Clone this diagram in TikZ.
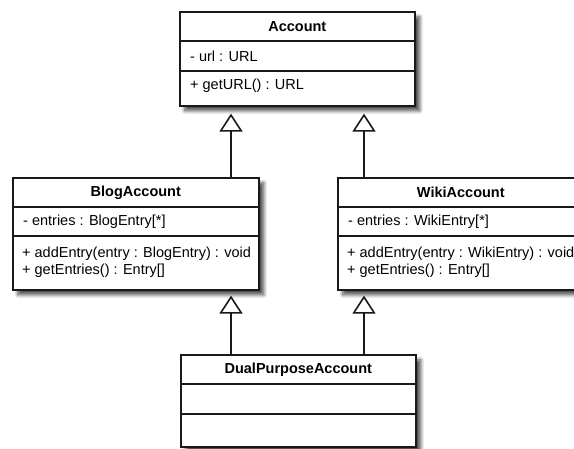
\documentclass[tikz,border=0pt]{standalone}
\usepackage{fontspec}
\setmainfont{Liberation Sans}
\usetikzlibrary{arrows.meta,calc,shadows.blur}

\tikzset{
  umlbox/.style={draw=black!90, line width=1.6pt, fill=white, inner sep=0pt,
    anchor=north west,
    blur shadow={shadow xshift=5pt, shadow yshift=-5pt, shadow blur steps=8,
      shadow blur radius=3.5pt, shadow opacity=70}},
  divider/.style={line width=1.6pt, draw=black!90},
  classname/.style={font=\bfseries\fontsize{14.5}{17}\selectfont, inner sep=0pt},
  member/.style={font=\fontsize{14.5}{17}\selectfont, anchor=west, inner sep=0pt, align=left},
  inherit/.style={line width=1.6pt, draw=black!90,
    -{Triangle[open, length=18pt, width=23pt, line width=1.6pt, fill=white]}},
}

\begin{document}
\begin{tikzpicture}[x=1pt, y=-1pt]
  \useasboundingbox (0,0) rectangle (574,448);
  \clip (0,0) rectangle (574,448);

  % Account
  \node[umlbox, minimum width=235pt, minimum height=94pt] (account) at (179,11) {};
  \draw[divider] ($(account.north west)+(0,30)$) -- ($(account.north east)+(0,30)$);
  \draw[divider] ($(account.north west)+(0,60)$) -- ($(account.north east)+(0,60)$);
  \node[classname] (account-name) at ($(account.north)+(0,15.5)$) {Account};
  \node[member] (account-attr) at ($(account.north west)+(11,45)$) {- url : URL};
  \node[member] (account-ops) at ($(account.north west)+(11,75)$) {+ getURL() : URL};

  % BlogAccount
  \node[umlbox, minimum width=246pt, minimum height=112pt] (blog) at (12,177) {};
  \draw[divider] ($(blog.north west)+(0,30)$) -- ($(blog.north east)+(0,30)$);
  \draw[divider] ($(blog.north west)+(0,59)$) -- ($(blog.north east)+(0,59)$);
  \node[classname] (blog-name) at ($(blog.north)+(0,15.5)$) {BlogAccount};
  \node[member] (blog-attr) at ($(blog.north west)+(11,44.5)$) {- entries : BlogEntry[*]};
  \node[member] (blog-ops) at ($(blog.north west)+(10,85)$)
    {+ addEntry(entry : BlogEntry) : void\\+ getEntries() : Entry[]};

  % WikiAccount
  \node[umlbox, minimum width=246pt, minimum height=112pt] (wiki) at (337,177) {};
  \draw[divider] ($(wiki.north west)+(0,30)$) -- ($(wiki.north east)+(0,30)$);
  \draw[divider] ($(wiki.north west)+(0,59)$) -- ($(wiki.north east)+(0,59)$);
  \node[classname] (wiki-name) at ($(wiki.north)+(0,15.5)$) {WikiAccount};
  \node[member] (wiki-attr) at ($(wiki.north west)+(11,44.5)$) {- entries : WikiEntry[*]};
  \node[member] (wiki-ops) at ($(wiki.north west)+(10,85)$)
    {+ addEntry(entry : WikiEntry) : void\\+ getEntries() : Entry[]};

  % DualPurposeAccount
  \node[umlbox, minimum width=235pt, minimum height=92pt] (dual) at (180,354) {};
  \draw[divider] ($(dual.north west)+(0,30)$) -- ($(dual.north east)+(0,30)$);
  \draw[divider] ($(dual.north west)+(0,60)$) -- ($(dual.north east)+(0,60)$);
  \node[classname] (dual-name) at ($(dual.north)+(0,15.5)$) {DualPurposeAccount};

  % generalization arrows
  \coordinate (lx) at (231,0);
  \coordinate (rx) at (364,0);
  \draw[inherit, shorten >=7pt] (lx |- blog.north) -- (lx |- account.south);
  \draw[inherit, shorten >=7pt] (rx |- wiki.north) -- (rx |- account.south);
  \draw[inherit, shorten >=5pt] (lx |- dual.north) -- (lx |- blog.south);
  \draw[inherit, shorten >=5pt] (rx |- dual.north) -- (rx |- wiki.south);
\end{tikzpicture}
\end{document}
